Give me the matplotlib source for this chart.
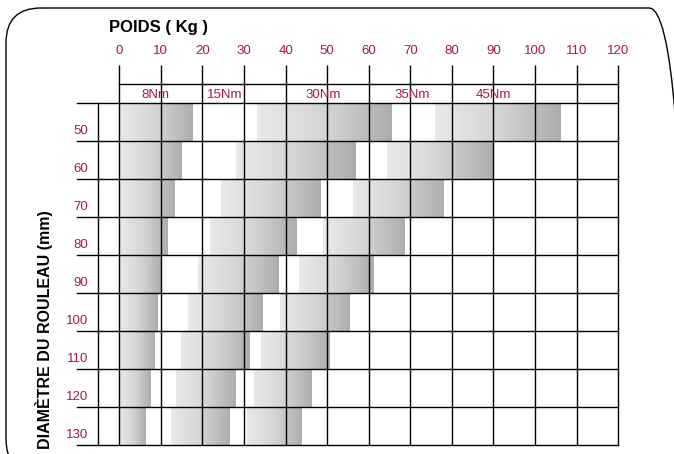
import numpy as np
import matplotlib
matplotlib.use('Agg')
import matplotlib.pyplot as plt
from matplotlib.colors import LinearSegmentedColormap
from matplotlib.patches import FancyBboxPatch
from matplotlib.transforms import IdentityTransform

# chart values
weights = list(range(0, 130, 10))
diameters = [50, 60, 70, 80, 90, 100, 110, 120, 130]
torques = ['8Nm', '15Nm', '30Nm', '35Nm', '45Nm']
torque_pos = [8.6, 25.3, 49.1, 70.4, 89.9]

# bar extents (kg) per diameter row
left_end = [17.7, 15.0, 13.4, 11.6, 10.2, 9.2, 8.6, 7.6, 6.4]
mid_start = [33.1, 28.1, 24.5, 21.7, 19.0, 16.6, 14.8, 13.6, 12.4]
mid_end = [65.5, 56.9, 48.4, 42.4, 38.4, 34.5, 31.2, 28.0, 26.4]
right_start = [76.0, 64.4, 56.2, 49.1, 43.3, 38.7, 34.1, 32.4, 30.8]
right_end = [106.2, 89.7, 77.9, 68.7, 61.3, 55.5, 50.5, 46.3, 43.9]

RED = '#a8154f'
plt.rcParams['font.family'] = ['Liberation Sans', 'DejaVu Sans']

fig = plt.figure(figsize=(6.74, 4.54), dpi=100)
ax = fig.add_axes([0, 0, 1, 1])
ax.axis('off')

cmap = LinearSegmentedColormap.from_list('bar', ['#e9e9e9', '#d4d5d7', '#adadae'])
grad = np.linspace(0, 1, 256).reshape(1, -1)

# gradient bars
for i in range(len(diameters)):
    spans = [(0, left_end[i]), (mid_start[i], mid_end[i]), (right_start[i], right_end[i])]
    for a, b in spans:
        ax.imshow(grad, cmap=cmap, aspect='auto', extent=(a, b, i + 1, i),
                  interpolation='bilinear', zorder=1)

# grid
nrows = len(diameters)
for w in weights:
    ax.plot([w, w], [-1, nrows], color='black', lw=1.0, zorder=3, solid_capstyle='butt')
ax.plot([-5.1, -5.1], [0, nrows], color='black', lw=1.0, zorder=3)
for i in range(nrows + 1):
    ax.plot([-10.2, 120], [i, i], color='black', lw=1.0, zorder=3)
ax.plot([0, 120], [-0.5, -0.5], color='black', lw=1.0, zorder=3)

# labels
for w in weights:
    ax.text(w, -1.37, str(w), color=RED, fontsize=9.5, ha='center', va='center')
for t, p in zip(torques, torque_pos):
    ax.text(p, -0.21, t, color=RED, fontsize=9.5, ha='center', va='center', zorder=4)
for i, d in enumerate(diameters):
    ax.text(-7.5, i + 0.74, str(d), color=RED, fontsize=9.5, ha='right', va='center')

ax.text(-2.5, -2.0, 'POIDS ( Kg )', fontsize=12, fontweight='bold',
        ha='left', va='center')
ax.text(-18.1, 5.97, 'DIAMÈTRE DU ROULEAU (mm)', fontsize=11.5, fontweight='bold',
        rotation=90, ha='center', va='center')

ax.set_xlim(-28.70, 133.44)
ax.set_ylim(9.237, -2.711)

# rounded frame
frame = FancyBboxPatch((6, -20), 678, 466, boxstyle='round,pad=0,rounding_size=35',
                       transform=IdentityTransform(), fill=False, edgecolor='black', lw=1.0)
fig.patches.append(frame)

fig.savefig('out.png', dpi=100)
